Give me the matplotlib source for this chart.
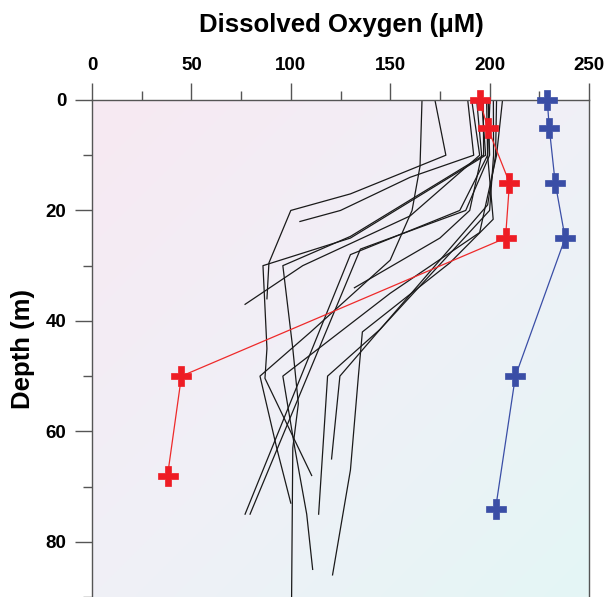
import numpy as np
import matplotlib
matplotlib.use("Agg")
import matplotlib.pyplot as plt
from matplotlib.ticker import MultipleLocator
from matplotlib.colors import LinearSegmentedColormap

plt.rcParams['font.family'] = ['Liberation Sans', 'DejaVu Sans']
plt.rcParams['font.weight'] = 'bold'

# Station with red markers (oxygen uM, depth m)
red_oxygen = [195, 199, 210, 208, 45, 38]
red_depth = [0, 5, 15, 25, 50, 68]

# Station with blue markers
blue_oxygen = [229, 230, 233, 238, 213, 203]
blue_depth = [0, 5, 15, 25, 50, 74]

# Background profiles (thin black lines)
prof_oxygen = [
    [166, 165, 161, 150, 110, 84.5, 92.9, 100],
    [172.5, 178, 130, 100, 89, 88],
    [189, 192, 160, 125, 104.6],
    [191, 195, 160, 106, 77],
    [193.5, 196, 190, 175, 132],
    [196, 198, 130, 86, 88, 87, 110.5],
    [196.8, 197, 130, 96, 101, 103.8, 101, 100.4],
    [198.5, 199, 185, 130, 77],
    [199.3, 200, 188, 135, 79.5],
    [200.2, 199, 201.8, 180, 136, 134, 130, 121],
    [201.9, 202, 200, 145, 124.7, 120.5],
    [203.5, 203, 199, 145, 118.5, 114],
    [206.5, 203.5, 195, 150, 96, 102, 108, 111],
]
prof_depth = [
    [0, 12, 20, 29, 42, 50, 63, 73],
    [0, 10, 17, 20, 29.5, 36],
    [0, 10, 14, 20, 22],
    [0, 10, 21, 30, 37],
    [0, 10, 20, 25, 34],
    [0, 10, 25, 30, 45, 50.4, 68],
    [0, 10, 24.7, 30, 45, 55, 63, 90],
    [0, 10, 20, 28, 75],
    [0, 10, 20, 27, 75],
    [0, 10, 21.6, 29.5, 42, 50, 67, 86],
    [0, 10, 20, 41.5, 50, 65],
    [0, 10, 19, 41.5, 50, 75],
    [0, 10, 24, 35, 50, 63, 75, 85],
]

x_ticks = [0, 50, 100, 150, 200, 250]
y_ticks = [0, 20, 40, 60, 80]

fig = plt.figure(figsize=(6.06, 5.97), dpi=100)
ax = fig.add_axes([92/606, 0.0, (589-92)/606, 1 - 100/597])

# gradient background
n = 200
xx, yy = np.meshgrid(np.linspace(0, 1, n), np.linspace(0, 1, n))
t = (xx + yy) / 2
cmap = LinearSegmentedColormap.from_list(
    'bg', [(247/255, 233/255, 242/255), (240/255, 240/255, 247/255), (228/255, 246/255, 245/255)])
ax.imshow(t, extent=(0, 250, 90, 0), cmap=cmap, aspect='auto', zorder=0, interpolation='bilinear')

for ox, dp in zip(prof_oxygen, prof_depth):
    ax.plot(ox, dp, color='#1a1a1a', lw=0.9, zorder=2)

ax.plot(red_oxygen, red_depth, color='#ee2a2a', lw=0.9, marker='P', markersize=14,
        markerfacecolor='#ee1c24', markeredgecolor='#ee1c24', markeredgewidth=0.5, zorder=4,
        clip_on=False)
ax.plot(blue_oxygen, blue_depth, color='#3a4ea6', lw=0.9, marker='P', markersize=14,
        markerfacecolor='#3a4ea6', markeredgecolor='#3a4ea6', markeredgewidth=0.5, zorder=4,
        clip_on=False)

ax.set_xlim(0, 250)
ax.set_ylim(90, 0)
ax.xaxis.tick_top()
ax.set_xticks(x_ticks)
ax.set_yticks(y_ticks)
ax.xaxis.set_minor_locator(MultipleLocator(25))
ax.yaxis.set_minor_locator(MultipleLocator(10))
ax.tick_params(which='major', length=12.5, width=1, color='#555555', direction='out',
               labelsize=13.5, pad=6)
ax.tick_params(which='minor', length=6.5, width=1, color='#555555', direction='out')
ax.tick_params(axis='x', which='both', top=True, bottom=False)
for lab in ax.get_xticklabels() + ax.get_yticklabels():
    lab.set_fontweight('bold')

for s in ['top', 'left', 'right']:
    ax.spines[s].set_color('#555555')
    ax.spines[s].set_linewidth(1)
ax.spines['bottom'].set_visible(False)

fig.text(341/606, 1 - 25/597, 'Dissolved Oxygen (μM)', ha='center', va='center',
         fontsize=18.5, fontweight='bold')
fig.text(23/606, 1 - 349/597, 'Depth (m)', ha='center', va='center', rotation=90,
         fontsize=18.5, fontweight='bold')

fig.savefig('out.png', dpi=100)
